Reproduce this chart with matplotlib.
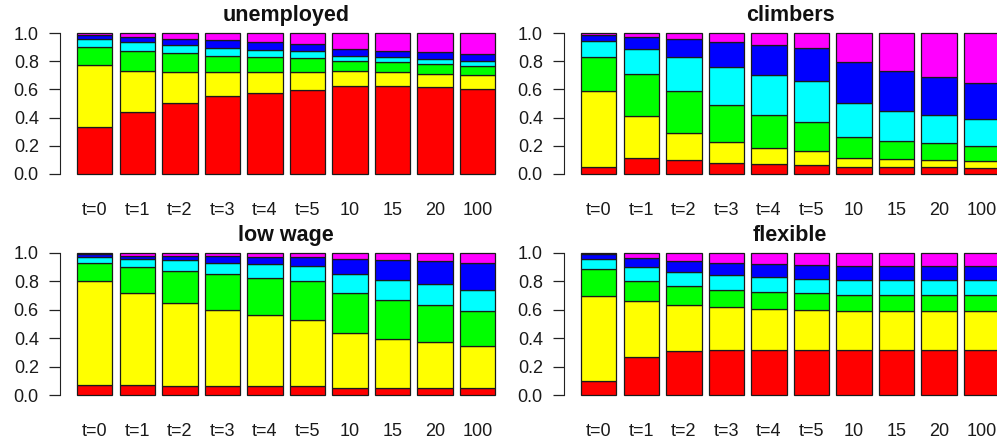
import numpy as np
import matplotlib
matplotlib.use("Agg")
import matplotlib.pyplot as plt

plt.rcParams['font.family'] = ['Liberation Sans', 'DejaVu Sans']

time_labels = ["t=0", "t=1", "t=2", "t=3", "t=4", "t=5", "10", "15", "20", "100"]
state_colors = ["#FF0000", "#FFFF00", "#00FF00", "#00FFFF", "#0000FF", "#FF00FF"]

# shares of each state (rows: bars over time; columns: states bottom to top)
unemployed = [
    [0.333, 0.442, 0.123, 0.060, 0.030, 0.012],
    [0.437, 0.296, 0.142, 0.059, 0.036, 0.030],
    [0.504, 0.217, 0.135, 0.057, 0.047, 0.040],
    [0.550, 0.171, 0.119, 0.054, 0.054, 0.052],
    [0.577, 0.149, 0.101, 0.055, 0.054, 0.064],
    [0.598, 0.128, 0.097, 0.052, 0.049, 0.076],
    [0.626, 0.102, 0.076, 0.035, 0.050, 0.111],
    [0.622, 0.099, 0.071, 0.035, 0.048, 0.125],
    [0.619, 0.093, 0.068, 0.036, 0.047, 0.137],
    [0.605, 0.095, 0.068, 0.036, 0.047, 0.149],
]

climbers = [
    [0.050, 0.541, 0.241, 0.114, 0.040, 0.014],
    [0.113, 0.297, 0.300, 0.180, 0.080, 0.030],
    [0.097, 0.193, 0.296, 0.241, 0.130, 0.043],
    [0.080, 0.147, 0.263, 0.270, 0.176, 0.064],
    [0.070, 0.114, 0.236, 0.280, 0.215, 0.085],
    [0.066, 0.094, 0.210, 0.287, 0.237, 0.106],
    [0.052, 0.064, 0.146, 0.244, 0.288, 0.206],
    [0.050, 0.056, 0.126, 0.215, 0.281, 0.272],
    [0.047, 0.053, 0.120, 0.200, 0.270, 0.310],
    [0.045, 0.050, 0.105, 0.190, 0.255, 0.355],
]

low_wage = [
    [0.070, 0.730, 0.130, 0.040, 0.020, 0.010],
    [0.070, 0.650, 0.180, 0.055, 0.025, 0.020],
    [0.066, 0.584, 0.220, 0.078, 0.032, 0.020],
    [0.064, 0.536, 0.253, 0.077, 0.046, 0.024],
    [0.064, 0.501, 0.260, 0.095, 0.054, 0.026],
    [0.060, 0.470, 0.270, 0.110, 0.060, 0.030],
    [0.050, 0.385, 0.281, 0.137, 0.107, 0.040],
    [0.050, 0.345, 0.272, 0.146, 0.140, 0.047],
    [0.050, 0.324, 0.262, 0.149, 0.161, 0.054],
    [0.047, 0.298, 0.248, 0.149, 0.187, 0.071],
]

flexible = [
    [0.100, 0.600, 0.190, 0.067, 0.033, 0.010],
    [0.270, 0.390, 0.140, 0.100, 0.067, 0.033],
    [0.310, 0.326, 0.128, 0.104, 0.072, 0.060],
    [0.317, 0.303, 0.120, 0.104, 0.086, 0.070],
    [0.320, 0.287, 0.119, 0.106, 0.088, 0.080],
    [0.317, 0.283, 0.116, 0.104, 0.097, 0.083],
    [0.317, 0.273, 0.115, 0.105, 0.098, 0.092],
    [0.317, 0.273, 0.115, 0.105, 0.098, 0.092],
    [0.317, 0.273, 0.115, 0.105, 0.098, 0.092],
    [0.317, 0.273, 0.115, 0.105, 0.098, 0.092],
]

panels = [
    ("unemployed", unemployed, [0.0605, 0.5946, 0.4531, 0.3436]),
    ("climbers", climbers, [0.5660, 0.5946, 0.4531, 0.3436]),
    ("low wage", low_wage, [0.0605, 0.0955, 0.4531, 0.3463]),
    ("flexible", flexible, [0.5660, 0.0955, 0.4531, 0.3463]),
]

fig = plt.figure(figsize=(9.97, 4.43), dpi=100)

for title, shares, rect in panels:
    ax = fig.add_axes(rect)
    data = np.array(shares)
    n = data.shape[0]
    lefts = 0.2 + 1.2 * np.arange(n)
    bottom = np.zeros(n)
    for k in range(data.shape[1]):
        ax.bar(lefts, data[:, k], width=1.0, bottom=bottom, align='edge',
               color=state_colors[k], edgecolor='#1a1a1a', linewidth=0.9)
        bottom += data[:, k]
    ax.set_xlim(-0.272, 12.472)
    ax.set_ylim(-0.04, 1.04)
    for side in ("top", "right", "bottom"):
        ax.spines[side].set_visible(False)
    ax.spines["left"].set_bounds(0, 1)
    ax.spines["left"].set_color('#222222')
    ax.set_yticks(np.arange(0, 1.01, 0.2))
    ax.set_yticklabels([f"{v:.1f}" for v in np.arange(0, 1.01, 0.2)])
    ax.tick_params(axis='y', length=8, width=0.9, pad=7.5, labelsize=13,
                   color='#222222', labelcolor='#1a1a1a')
    ax.set_xticks(lefts + 0.5)
    ax.set_xticklabels(time_labels)
    ax.tick_params(axis='x', length=0, pad=16, labelsize=13, labelcolor='#1a1a1a')
    ax.set_title(title, fontsize=15.5, fontweight='bold', pad=4.5, color='#111111')

fig.savefig("out.png", dpi=100)
